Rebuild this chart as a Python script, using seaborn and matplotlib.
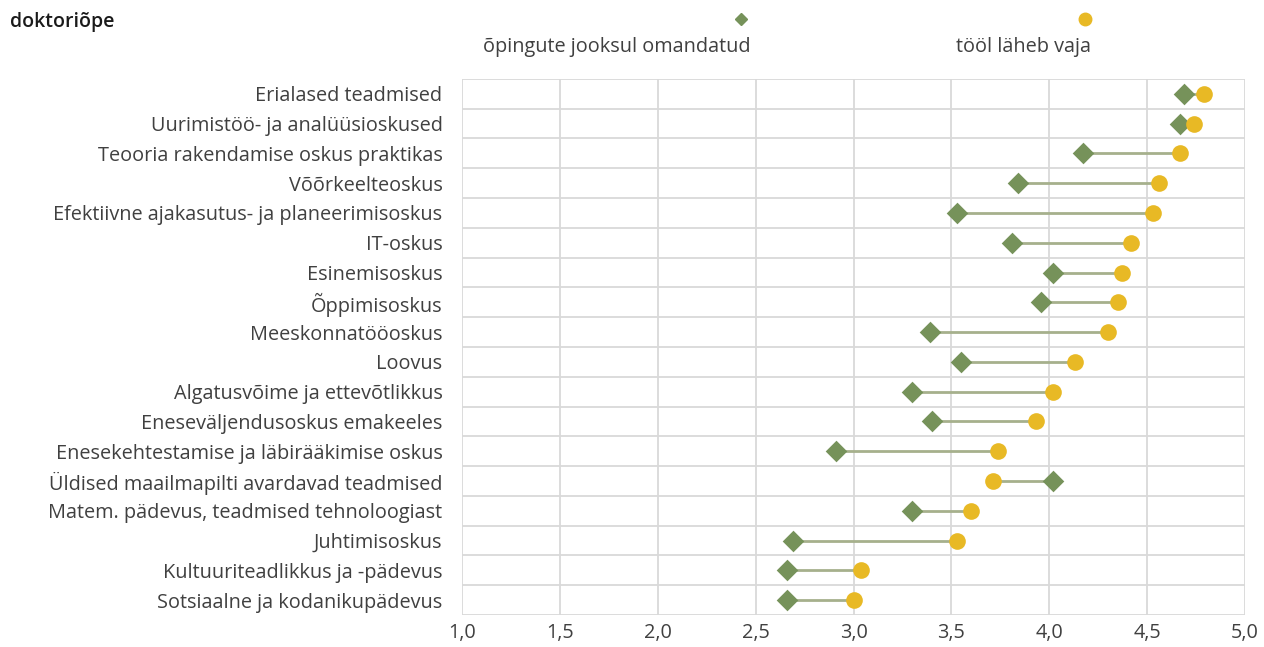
import numpy as np
import pandas as pd
import matplotlib
matplotlib.use("Agg")
import matplotlib.pyplot as plt
from matplotlib.lines import Line2D
import seaborn as sns

categories = [
    "Erialased teadmised",
    "Uurimistöö- ja analüüsioskused",
    "Teooria rakendamise oskus praktikas",
    "Võõrkeelteoskus",
    "Efektiivne ajakasutus- ja planeerimisoskus",
    "IT-oskus",
    "Esinemisoskus",
    "Õppimisoskus",
    "Meeskonnatööoskus",
    "Loovus",
    "Algatusvõime ja ettevõtlikkus",
    "Eneseväljendusoskus emakeeles",
    "Enesekehtestamise ja läbirääkimise oskus",
    "Üldised maailmapilti avardavad teadmised",
    "Matem. pädevus, teadmised tehnoloogiast",
    "Juhtimisoskus",
    "Kultuuriteadlikkus ja -pädevus",
    "Sotsiaalne ja kodanikupädevus",
]
acquired = [4.69, 4.67, 4.17, 3.84, 3.53, 3.81, 4.02, 3.96, 3.39, 3.55,
            3.30, 3.40, 2.91, 4.02, 3.30, 2.69, 2.66, 2.66]
needed = [4.79, 4.74, 4.67, 4.56, 4.53, 4.42, 4.37, 4.35, 4.30, 4.13,
          4.02, 3.93, 3.74, 3.71, 3.60, 3.53, 3.04, 3.00]
series_names = ["õpingute jooksul omandatud", "tööl läheb vaja"]
title = "doktoriõpe"
xticks = [1.0, 1.5, 2.0, 2.5, 3.0, 3.5, 4.0, 4.5, 5.0]

GREEN = "#76925a"
GOLD = "#e8b925"
LINE = "#a6b08c"
GRID = "#d9d9d9"
TXT = "#404040"
FS = 14.3

sns.set_theme(style="white")
plt.rcParams["font.family"] = ["Open Sans", "DejaVu Sans"]

df = pd.DataFrame({"cat": categories, "acq": acquired, "need": needed})

fig = plt.figure(figsize=(12.64, 6.47), dpi=100)
ax = fig.add_axes([0.3655, 0.0495, 0.6195, 0.8285])

ypos = np.arange(len(categories))
ax.hlines(ypos, df["acq"], df["need"], color=LINE, linewidth=2, zorder=2)

sns.stripplot(data=df, x="acq", y="cat", order=categories, jitter=False,
              marker="D", s=11, color=GREEN, linewidth=0, ax=ax, zorder=3)
sns.stripplot(data=df, x="need", y="cat", order=categories, jitter=False,
              marker="o", s=12, color=GOLD, linewidth=0, ax=ax, zorder=4)

ax.set_xlim(1.0, 5.0)
ax.set_ylim(len(categories) - 0.5, -0.5)
ax.set_xticks(xticks)
ax.set_xticklabels([f"{v:.1f}".replace(".", ",") for v in xticks])
ax.set_yticks(ypos)
ax.set_yticklabels(categories)
ax.set_yticks(np.arange(-0.5, len(categories)), minor=True)
ax.set_xlabel("")
ax.set_ylabel("")
for s in ax.spines.values():
    s.set_visible(False)
ax.grid(False)
ax.xaxis.grid(True, which="major", color=GRID, linewidth=1.3, zorder=0)
ax.yaxis.grid(True, which="minor", color=GRID, linewidth=1.3, zorder=0)
ax.set_axisbelow(True)
ax.tick_params(axis="both", which="both", length=0, labelsize=FS, labelcolor=TXT)
ax.tick_params(axis="y", pad=14)
ax.tick_params(axis="x", pad=6)

fig.text(10 / 1264, 1 - 22 / 647, title, fontsize=14, fontweight="semibold",
         color="#1a1a1a", va="center", ha="left")

# legend
fig.add_artist(Line2D([741 / 1264], [1 - 19 / 647], marker="D", markersize=6.5,
                      color=GREEN, linestyle="none", transform=fig.transFigure))
fig.add_artist(Line2D([1085 / 1264], [1 - 19 / 647], marker="o", markersize=9,
                      color=GOLD, linestyle="none", transform=fig.transFigure))
fig.text(617 / 1264, 1 - 47 / 647, series_names[0], fontsize=FS, color=TXT,
         ha="center", va="center")
fig.text(1024 / 1264, 1 - 47 / 647, series_names[1], fontsize=FS, color=TXT,
         ha="center", va="center")

fig.savefig("out.png", dpi=100)
